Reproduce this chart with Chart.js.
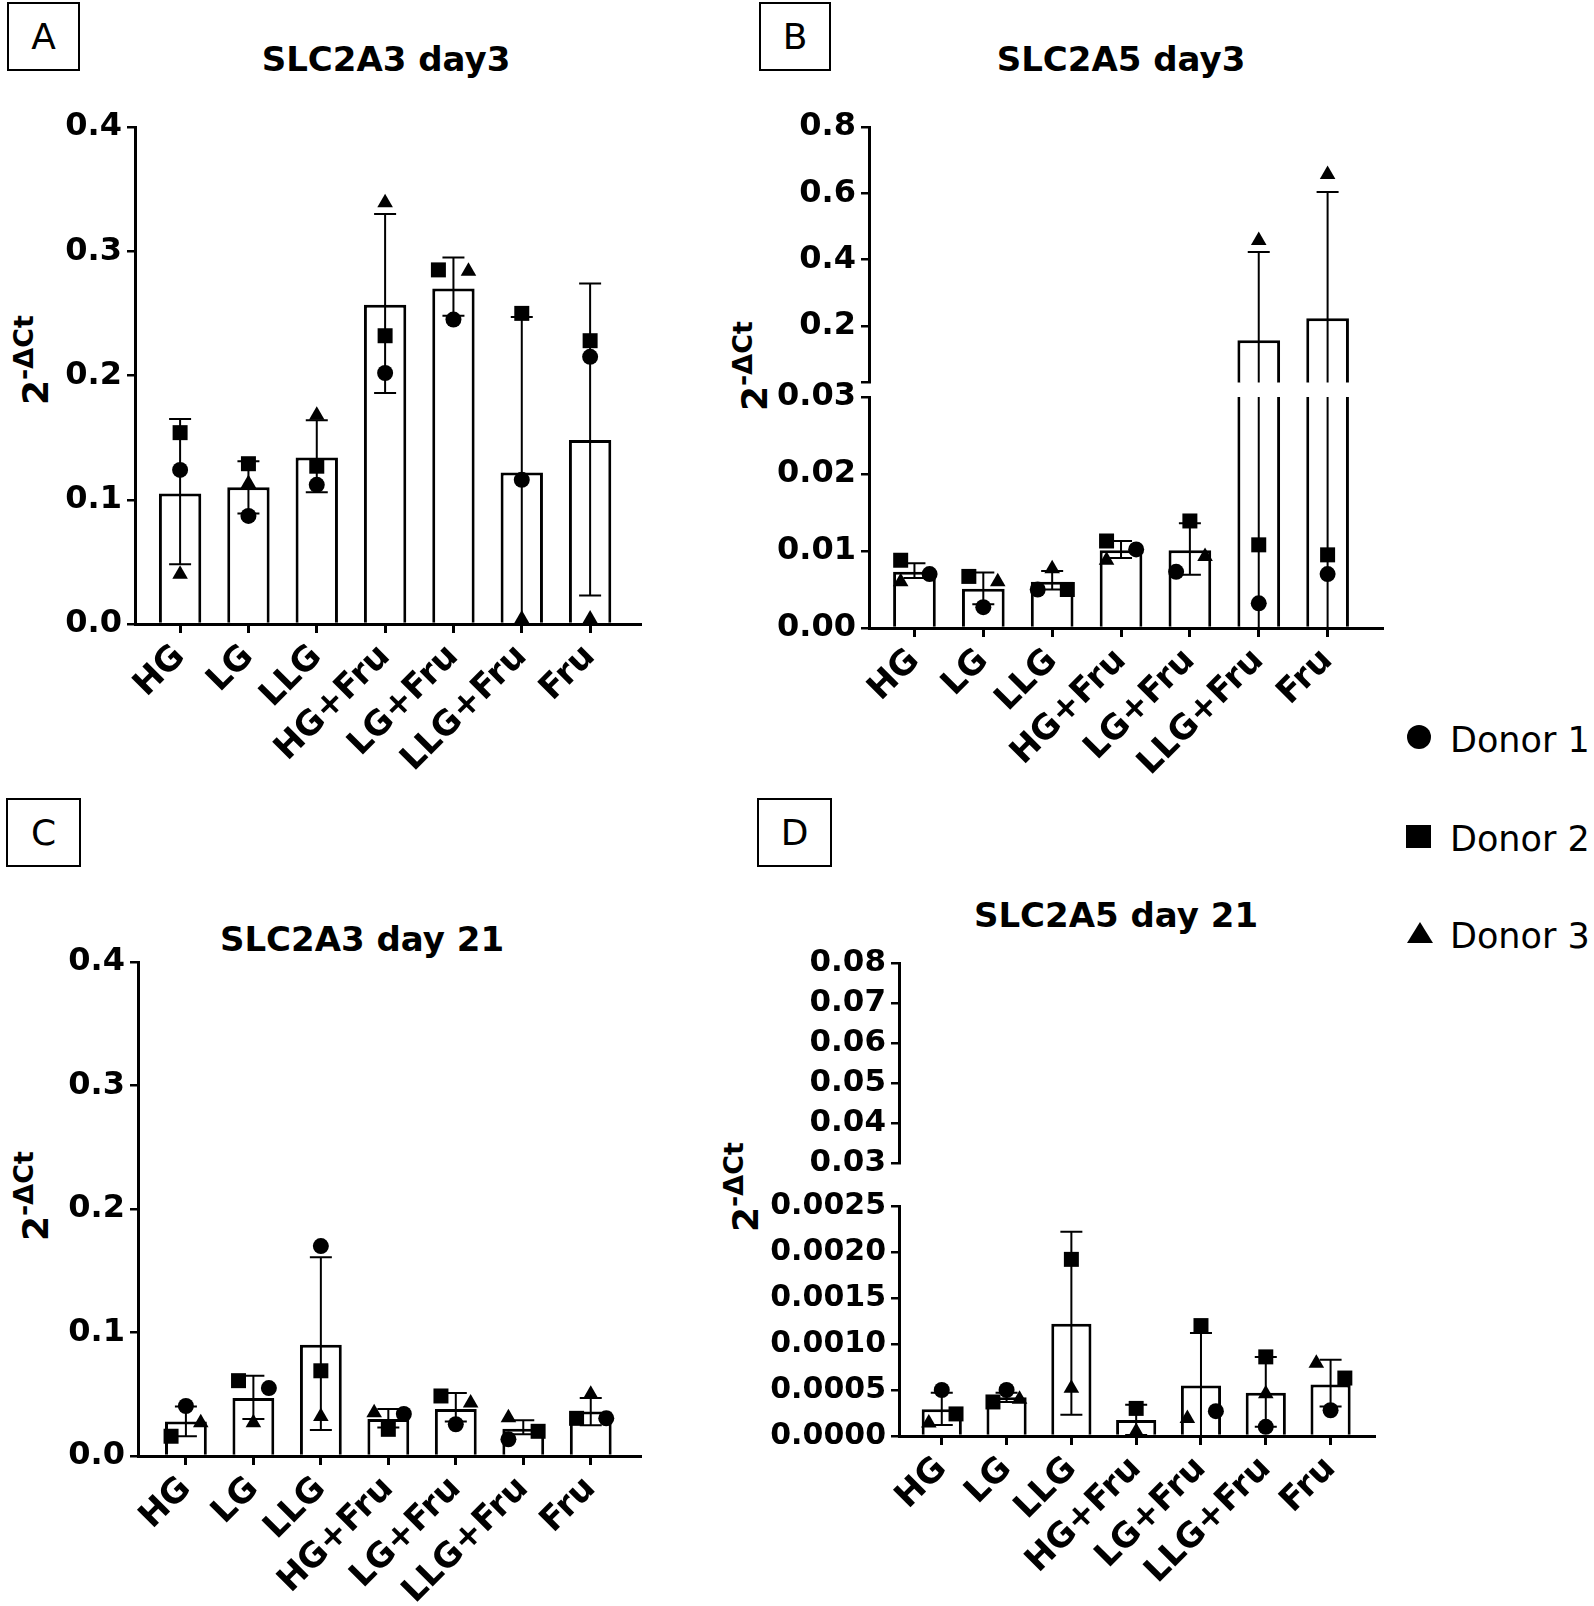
<!DOCTYPE html>
<html>
<head>
<meta charset="utf-8">
<script src="https://cdn.jsdelivr.net/npm/chart.js@4.4.1/dist/chart.umd.min.js"></script>
<style>
html,body{margin:0;padding:0;background:#fff;}
#wrap{position:relative;width:1594px;height:1606px;overflow:hidden;background:#fff;font-family:'DejaVu Sans',sans-serif;color:#000;}
#wrap canvas{position:absolute;}
.box{position:absolute;border:2.5px solid #000;box-sizing:border-box;display:flex;align-items:center;justify-content:center;font-size:36px;line-height:36px;}
.title{position:absolute;font-weight:bold;font-size:34px;line-height:34px;white-space:nowrap;transform:translateX(-50%);}
.ytitle{position:absolute;font-weight:bold;font-size:36px;line-height:36px;white-space:nowrap;transform:translate(-50%,-50%) rotate(-90deg);}
.ytitle sup{font-size:27px;line-height:0;vertical-align:15px;}
.leg{position:absolute;font-size:35px;line-height:35px;white-space:nowrap;}
.mk{position:absolute;background:#000;}
.tri{position:absolute;width:0;height:0;border-left:13px solid transparent;border-right:13px solid transparent;border-bottom:21px solid #000;}
</style>
</head>
<body>
<div id="wrap">
  <div class="box" style="left:7px;top:2px;width:73px;height:69px;">A</div>
  <div class="box" style="left:759px;top:2px;width:72px;height:69px;">B</div>
  <div class="box" style="left:6px;top:798px;width:75px;height:69px;">C</div>
  <div class="box" style="left:757px;top:798px;width:75px;height:69px;">D</div>

  <div class="title" style="left:386px;top:42px;">SLC2A3 day3</div>
  <div class="title" style="left:1121px;top:42px;">SLC2A5 day3</div>
  <div class="title" style="left:362px;top:922px;">SLC2A3 day 21</div>
  <div class="title" style="left:1116px;top:898px;">SLC2A5 day 21</div>

  <div class="ytitle" style="left:36px;top:360px;">2<sup>-ΔCt</sup></div>
  <div class="ytitle" style="left:755px;top:366px;">2<sup>-ΔCt</sup></div>
  <div class="ytitle" style="left:36px;top:1196px;">2<sup>-ΔCt</sup></div>
  <div class="ytitle" style="left:746px;top:1187px;">2<sup>-ΔCt</sup></div>

  <div class="mk" style="left:1407px;top:725px;width:24px;height:24px;border-radius:50%;"></div>
  <div class="leg" style="left:1450px;top:723px;">Donor 1</div>
  <div class="mk" style="left:1406px;top:825px;width:25px;height:23px;"></div>
  <div class="leg" style="left:1450px;top:822px;">Donor 2</div>
  <div class="tri" style="left:1407px;top:922px;"></div>
  <div class="leg" style="left:1450px;top:919px;">Donor 3</div>

  <canvas id="cA"></canvas>
  <canvas id="cBu"></canvas>
  <canvas id="cBl"></canvas>
  <canvas id="cC"></canvas>
  <canvas id="cDu"></canvas>
  <canvas id="cDl"></canvas>
</div>
<script>
// ---------- categories ----------
const cats = ['HG', 'LG', 'LLG', 'HG+Fru', 'LG+Fru', 'LLG+Fru', 'Fru'];

// ---------- Panel A: SLC2A3 day3 ----------
const aMean = [0.105, 0.110, 0.134, 0.257, 0.270, 0.122, 0.148];
const aHi   = [0.165, 0.131, 0.164, 0.330, 0.295, 0.247, 0.274];
const aLo   = [0.048, 0.089, 0.106, 0.186, 0.248, -0.001, 0.023];
const aDonor1 = [0.124, 0.087, 0.112, 0.202, 0.245, 0.116, 0.215];
const aDonor2 = [0.154, 0.129, 0.127, 0.232, 0.285, 0.250, 0.228];
const aDonor3 = [0.040, 0.113, 0.168, 0.339, 0.284, 0.004, 0.004];
const aJit1 = [0, 0, 0, 0, 0, 0, 0];
const aJit2 = [0, 0, 0, 0, -0.22, 0, 0];
const aJit3 = [0, 0, 0, 0, 0.22, 0, 0];
const aTicks = [0, 0.1, 0.2, 0.3, 0.4];
const aTickLabels = ['0.0', '0.1', '0.2', '0.3', '0.4'];

// ---------- Panel B: SLC2A5 day3 (broken axis) ----------
const bMean = [0.0073, 0.0051, 0.0060, 0.0101, 0.0101, 0.157, 0.224];
const bHi   = [0.0084, 0.0072, 0.0074, 0.0113, 0.0136, 0.423, 0.604];
const bLo   = [0.0065, 0.0031, 0.0050, 0.0091, 0.0069, -0.11, -0.16];
const bDonor1 = [0.0070, 0.0027, 0.0050, 0.0102, 0.0073, 0.0032, 0.0070];
const bDonor2 = [0.0088, 0.0067, 0.0050, 0.0113, 0.0139, 0.0108, 0.0095];
const bDonor3 = [0.0060, 0.0060, 0.0077, 0.0088, 0.0093, 0.458, 0.657];
const bJit1 = [0.22, 0, -0.21, 0.22, -0.2, 0, 0];
const bJit2 = [-0.2, -0.21, 0.22, -0.21, 0, 0, 0];
const bJit3 = [-0.2, 0.21, 0, -0.21, 0.22, 0, 0];
const bTicksLow = [0, 0.01, 0.02, 0.03];
const bTickLabelsLow = ['0.00', '0.01', '0.02', '0.03'];
const bTicksHigh = [0.03, 0.2, 0.4, 0.6, 0.8];
const bTickLabelsHigh = ['', '0.2', '0.4', '0.6', '0.8'];

// ---------- Panel C: SLC2A3 day 21 ----------
const cMean = [0.028, 0.047, 0.090, 0.030, 0.038, 0.022, 0.036];
const cHi   = [0.040, 0.065, 0.161, 0.038, 0.051, 0.029, 0.047];
const cLo   = [0.016, 0.030, 0.021, 0.023, 0.028, 0.0176, 0.025];
const cDonor1 = [0.0405, 0.055, 0.170, 0.034, 0.0257, 0.0135, 0.0305];
const cDonor2 = [0.016, 0.061, 0.069, 0.0216, 0.0486, 0.020, 0.0305];
const cDonor3 = [0.027, 0.027, 0.032, 0.035, 0.043, 0.031, 0.050];
const cJit1 = [0, 0.23, 0, 0.23, 0, -0.22, 0.23];
const cJit2 = [-0.22, -0.22, 0, 0, -0.22, 0.22, -0.21];
const cJit3 = [0.22, 0, 0, -0.21, 0.22, -0.22, 0];
const cTicks = [0, 0.1, 0.2, 0.3, 0.4];
const cTickLabels = ['0.0', '0.1', '0.2', '0.3', '0.4'];

// ---------- Panel D: SLC2A5 day 21 (broken axis) ----------
const dMean = [0.00029, 0.00042, 0.00122, 0.000175, 0.00055, 0.00047, 0.00056];
const dHi   = [0.00047, 0.00047, 0.00222, 0.00034, 0.00112, 0.00086, 0.00083];
const dLo   = [0.00012, 0.00037, 0.00023, 0.00001, -0.00002, 0.0001, 0.00032];
const dDonor1 = [0.0005, 0.0005, null, null, 0.00027, 0.0001, 0.00028];
const dDonor2 = [0.00024, 0.00037, 0.00192, 0.0003, 0.0012, 0.00086, 0.00063];
const dDonor3 = [0.00014, 0.0004, 0.00052, 0.00005, 0.00019, 0.00046, 0.00079];
const dJit1 = [0, 0, 0, 0, 0.23, 0, 0];
const dJit2 = [0.22, -0.21, 0, 0, 0, 0, 0.22];
const dJit3 = [-0.2, 0.2, 0, 0, -0.21, 0, -0.22];
const dTicksLow = [0, 0.0005, 0.001, 0.0015, 0.002, 0.0025];
const dTickLabelsLow = ['0.0000', '0.0005', '0.0010', '0.0015', '0.0020', '0.0025'];
const dTicksHigh = [0.03, 0.04, 0.05, 0.06, 0.07, 0.08];
const dTickLabelsHigh = ['0.03', '0.04', '0.05', '0.06', '0.07', '0.08'];

// ---------- rendering ----------
Chart.defaults.font.family = "'DejaVu Sans', sans-serif";
Chart.defaults.color = '#000';

const errPlugin = {
  id: 'errbars',
  afterDatasetDraw(chart, args, opts) {
    if (args.meta.type !== 'bar' || !opts.lo) return;
    const ctx = chart.ctx, ca = chart.chartArea, x = chart.scales.x, y = chart.scales.y;
    ctx.save();
    ctx.beginPath();
    ctx.rect(ca.left, ca.top - 1, ca.right - ca.left, ca.bottom - ca.top + 2);
    ctx.clip();
    ctx.strokeStyle = '#000';
    ctx.lineWidth = opts.lineWidth;
    const hw = opts.capWidth / 2;
    opts.lo.forEach((lo, i) => {
      const hi = opts.hi[i];
      if (hi == null || lo == null) return;
      if (hi < y.min || lo > y.max) return;
      const px = x.getPixelForValue(i);
      const pt = y.getPixelForValue(Math.min(hi, y.max));
      const pb = y.getPixelForValue(Math.max(lo, y.min));
      ctx.beginPath();
      ctx.moveTo(px, pt); ctx.lineTo(px, pb);
      if (hi <= y.max) { ctx.moveTo(px - hw, pt); ctx.lineTo(px + hw, pt); }
      if (lo >= y.min) { ctx.moveTo(px - hw, pb); ctx.lineTo(px + hw, pb); }
      ctx.stroke();
    });
    ctx.restore();
  }
};

function panel(id, g, ys, xs, d) {
  const cv = document.getElementById(id);
  cv.style.left = g.cl + 'px'; cv.style.top = g.ct + 'px';
  cv.width = g.cw; cv.height = g.ch;
  cv.style.width = g.cw + 'px'; cv.style.height = g.ch + 'px';
  const inR = v => (v == null || v < ys.min || v > ys.max) ? null : v;
  const barData = d.mean.map((v, i) => ({ x: i, y: (v != null && v > ys.min) ? v : null }));
  const pts = (arr, jit) => arr.map((v, i) => ({ x: i + jit[i], y: inR(v) }));
  const pointDs = (arr, jit, style, r, ord) => ({
    type: 'scatter', data: pts(arr, jit), pointStyle: style, pointRadius: r,
    pointHoverRadius: r, backgroundColor: '#000', borderColor: '#000', borderWidth: 0,
    order: ord, clip: false
  });
  new Chart(cv, {
    type: 'bar',
    data: {
      datasets: [
        { type: 'bar', data: barData, backgroundColor: '#fff', borderColor: '#000', borderWidth: 3,
          barPercentage: 0.62, categoryPercentage: 1, order: 10,
          clip: { left: false, right: false, top: 0, bottom: 0 } },
        pointDs(d.d1, d.j1, 'circle', 8, 3),
        pointDs(d.d2, d.j2, 'rect', 10.6, 2),
        pointDs(d.d3, d.j3, 'triangle', 9, 1)
      ]
    },
    options: {
      responsive: false, animation: false, events: [], devicePixelRatio: 1,
      layout: {
        autoPadding: false,
        padding: { left: 0, top: g.at - g.ct, right: (g.cl + g.cw) - g.ar,
                   bottom: xs.show ? 0 : (g.ct + g.ch) - g.ab }
      },
      plugins: {
        legend: { display: false }, tooltip: { enabled: false }, title: { display: false },
        errbars: { lo: d.lo, hi: d.hi, capWidth: 22, lineWidth: 2 }
      },
      scales: {
        x: {
          type: 'linear', display: xs.show, min: xs.min, max: xs.max, offset: false,
          afterBuildTicks: s => { s.ticks = cats.map((c, i) => ({ value: i })); },
          afterFit: s => { s.height = xs.show ? (g.ct + g.ch) - g.ab : 0; },
          ticks: { autoSkip: false, minRotation: 45, maxRotation: 45, padding: 4,
                   font: { size: 34, weight: 'bold' }, color: '#000',
                   callback: v => cats[Math.round(v)] },
          grid: { display: true, offset: false, drawOnChartArea: false, drawTicks: true, tickLength: 9,
                  tickWidth: 3, tickColor: '#000', color: '#000', lineWidth: 3 },
          border: { display: true, width: 3, color: '#000' }
        },
        y: {
          type: 'linear', min: ys.min, max: ys.max,
          afterBuildTicks: s => { s.ticks = ys.ticks.map(v => ({ value: v })); },
          afterFit: s => { s.width = g.al - g.cl; },
          ticks: { autoSkip: false, padding: 5, font: { size: ys.font, weight: 'bold' }, color: '#000',
                   callback: (v, i) => ys.labels[i] },
          grid: { display: true, offset: false, drawOnChartArea: false, drawTicks: true, tickLength: 8,
                  tickWidth: 2.5, tickColor: '#000', color: '#000', lineWidth: 2.5 },
          border: { display: true, width: 3, color: '#000' }
        }
      }
    },
    plugins: [errPlugin]
  });
}

const A = { mean: aMean, lo: aLo, hi: aHi, d1: aDonor1, d2: aDonor2, d3: aDonor3, j1: aJit1, j2: aJit2, j3: aJit3 };
const B = { mean: bMean, lo: bLo, hi: bHi, d1: bDonor1, d2: bDonor2, d3: bDonor3, j1: bJit1, j2: bJit2, j3: bJit3 };
const C = { mean: cMean, lo: cLo, hi: cHi, d1: cDonor1, d2: cDonor2, d3: cDonor3, j1: cJit1, j2: cJit2, j3: cJit3 };
const D = { mean: dMean, lo: dLo, hi: dHi, d1: dDonor1, d2: dDonor2, d3: dDonor3, j1: dJit1, j2: dJit2, j3: dJit3 };

panel('cA', { cl: 0, ct: 95, cw: 660, ch: 715, al: 135, at: 127, ar: 640, ab: 624 },
  { min: 0, max: 0.4, ticks: aTicks, labels: aTickLabels, font: 32 }, { show: true, min: -0.66, max: 6.73 }, A);

panel('cBu', { cl: 700, ct: 95, cw: 700, ch: 320, al: 869, at: 127, ar: 1382, ab: 382.5 },
  { min: 0.03, max: 0.8, ticks: bTicksHigh, labels: bTickLabelsHigh, font: 32 }, { show: false, min: -0.66, max: 6.79 }, B);
panel('cBl', { cl: 700, ct: 365, cw: 700, ch: 445, al: 869, at: 397, ar: 1382, ab: 628 },
  { min: 0, max: 0.03, ticks: bTicksLow, labels: bTickLabelsLow, font: 32 }, { show: true, min: -0.66, max: 6.79 }, B);

panel('cC', { cl: 0, ct: 930, cw: 660, ch: 676, al: 138, at: 962, ar: 640, ab: 1456 },
  { min: 0, max: 0.4, ticks: cTicks, labels: cTickLabels, font: 32 }, { show: true, min: -0.71, max: 6.73 }, C);

panel('cDu', { cl: 700, ct: 930, cw: 700, ch: 265, al: 899, at: 963, ar: 1374, ab: 1163 },
  { min: 0.03, max: 0.08, ticks: dTicksHigh, labels: dTickLabelsHigh, font: 31 }, { show: false, min: -0.66, max: 6.67 }, D);
panel('cDl', { cl: 700, ct: 1176, cw: 700, ch: 430, al: 899, at: 1206, ar: 1374, ab: 1436 },
  { min: 0, max: 0.0025, ticks: dTicksLow, labels: dTickLabelsLow, font: 30 }, { show: true, min: -0.66, max: 6.67 }, D);
</script>
</body>
</html>
